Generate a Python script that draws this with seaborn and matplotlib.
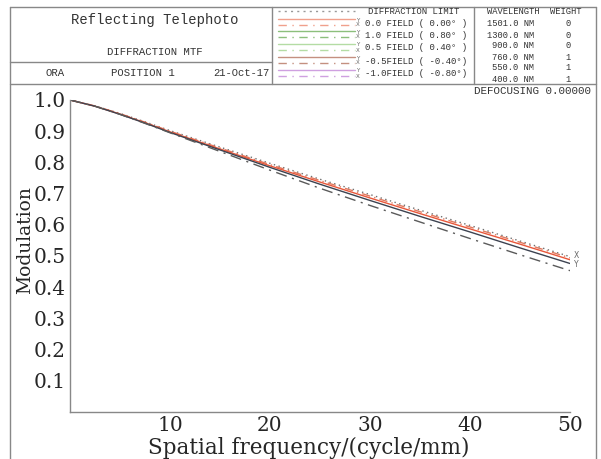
import numpy as np
import pandas as pd
import matplotlib
matplotlib.use("Agg")
import matplotlib.pyplot as plt
import seaborn as sns

# spatial frequency (cycle/mm) and modulation
freq = [0, 2.5, 5, 7.5, 10, 15, 20, 25, 30, 35, 40, 45, 50]
diff_limit = [1.0, 0.981, 0.957, 0.930, 0.902, 0.849, 0.797, 0.746, 0.697, 0.647, 0.598, 0.548, 0.498]
f00_x = [1.0, 0.981, 0.956, 0.929, 0.900, 0.846, 0.793, 0.742, 0.692, 0.642, 0.593, 0.544, 0.494]
f00_y = [1.0, 0.980, 0.955, 0.927, 0.898, 0.843, 0.789, 0.737, 0.686, 0.636, 0.587, 0.538, 0.488]
f10_y = [1.0, 0.980, 0.954, 0.926, 0.896, 0.840, 0.784, 0.730, 0.678, 0.627, 0.577, 0.526, 0.476]
f10_x = [1.0, 0.980, 0.954, 0.925, 0.895, 0.835, 0.775, 0.717, 0.662, 0.609, 0.556, 0.504, 0.453]

series = ["DIFF", "F00X", "F00Y", "F10Y", "F10X"]
colors = {"DIFF": "#707070", "F00X": "#e07a60", "F00Y": "#e8573a", "F10Y": "#3c4250", "F10X": "#5a5a5a"}
dashes = {"DIFF": (1, 2.5), "F00X": (6, 3, 1, 3), "F00Y": "", "F10Y": "", "F10X": (8, 4, 1.5, 4)}

# header legend / wavelength table text
field_labels = ["0.0 FIELD ( 0.00\u00b0 )", "1.0 FIELD ( 0.80\u00b0 )", "0.5 FIELD ( 0.40\u00b0 )",
                "-0.5FIELD ( -0.40\u00b0)", "-1.0FIELD ( -0.80\u00b0)"]
field_colors = ["#f0a08c", "#8cbf7c", "#b4dca4", "#c49080", "#cfa0e0"]
wavelengths = ["1501.0 NM", "1300.0 NM", "900.0 NM", "760.0 NM", "550.0 NM", "400.0 NM"]
weights = ["0", "0", "0", "1", "1", "1"]

df = pd.DataFrame({"freq": freq * 5,
                   "mod": diff_limit + f00_x + f00_y + f10_y + f10_x,
                   "curve": sum([[s] * len(freq) for s in series], [])})

sns.set_style("white")
plt.rcParams["font.family"] = ["DejaVu Serif"]

fig = plt.figure(figsize=(6.01, 4.59), dpi=100)
ax = fig.add_axes([70 / 601, 1 - 412 / 459, 500 / 601, 312 / 459])
sns.lineplot(data=df, x="freq", y="mod", hue="curve", style="curve", palette=colors,
             dashes=dashes, linewidth=1.0, legend=False, ax=ax)
ax.set_xlim(0, 50)
ax.set_ylim(0, 1.0)
ax.set_xticks([10, 20, 30, 40, 50])
ax.set_yticks(np.arange(1, 11) / 10)
ax.set_yticklabels([f"{v / 10:.1f}" for v in range(1, 11)])
ax.tick_params(direction="in", length=4, width=0.8, color="#888888", labelsize=14.5, pad=3)
for s in ["top", "right"]:
    ax.spines[s].set_visible(False)
for s in ["left", "bottom"]:
    ax.spines[s].set_color("#888888")
    ax.spines[s].set_linewidth(1.0)
ax.set_xlabel("Spatial frequency/(cycle/mm)", fontsize=15.5)
ax.set_ylabel("Modulation", fontsize=13.5)
ax.xaxis.set_label_coords(0.478, -0.08)
ax.yaxis.set_label_coords(-0.09, 0.55)
ax.yaxis.label.set_va("center")

# curve end labels
ax.text(50.4, f00_x[-1] + 0.008, "X", fontsize=5.5, family="DejaVu Sans", color="#666666", va="center")
ax.text(50.4, f10_y[-1] - 0.002, "Y", fontsize=5.5, family="DejaVu Sans", color="#666666", va="center")

# header overlay in pixel coordinates
ov = fig.add_axes([0, 0, 1, 1], zorder=-1)
ov.set_xlim(0, 601)
ov.set_ylim(459, 0)
ov.axis("off")
lc = "#888888"
ov.plot([10, 10], [7, 459], color=lc, lw=1)
ov.plot([596, 596], [7, 459], color=lc, lw=1)
ov.plot([10, 596], [7, 7], color=lc, lw=1)
ov.plot([10, 596], [84, 84], color=lc, lw=1)
ov.plot([10, 272], [62, 62], color=lc, lw=1)
ov.plot([272, 272], [7, 84], color=lc, lw=1)
ov.plot([474, 474], [7, 84], color=lc, lw=1)

mono = "Liberation Mono"
tc = "#333333"
ov.text(155, 20, "Reflecting Telephoto", family=mono, fontsize=10, ha="center", va="center", color=tc)
ov.text(155, 52, "DIFFRACTION MTF", family=mono, fontsize=7.7, ha="center", va="center", color=tc)
ov.text(55, 73, "ORA", family=mono, fontsize=7.7, ha="center", va="center", color=tc)
ov.text(143, 73, "POSITION 1", family=mono, fontsize=7.7, ha="center", va="center", color=tc)
ov.text(270, 73, "21-Oct-17", family=mono, fontsize=7.6, ha="right", va="center", color=tc)

ov.plot([278, 355], [11, 11], color="#999999", lw=1, linestyle=(0, (1.5, 3)))
ov.text(368, 11, "DIFFRACTION LIMIT", family=mono, fontsize=6.5, va="center", color=tc)
rows = [23, 35, 48, 61, 74]
for yy, lab, col in zip(rows, field_labels, field_colors):
    ov.plot([278, 355], [yy - 4, yy - 4], color=col, lw=1)
    ov.plot([278, 355], [yy + 2, yy + 2], color=col, lw=1, linestyle=(0, (6, 4, 1, 4)))
    ov.text(358, yy - 3, "Y", family="DejaVu Sans", fontsize=4, ha="center", va="center", color="#666666")
    ov.text(358, yy + 2, "X", family="DejaVu Sans", fontsize=4, ha="center", va="center", color="#666666")
    ov.text(365, yy, lab, family=mono, fontsize=6.5, va="center", color=tc)

ov.text(513, 12, "WAVELENGTH", family=mono, fontsize=6.3, ha="center", va="center", color=tc)
ov.text(566, 12, "WEIGHT", family=mono, fontsize=6.3, ha="center", va="center", color=tc)
for i, (wl, wt) in enumerate(zip(wavelengths, weights)):
    yy = 24 + i * 11
    ov.text(534, yy, wl, family=mono, fontsize=6.3, ha="right", va="center", color=tc)
    ov.text(568, yy, wt, family=mono, fontsize=6.3, ha="center", va="center", color=tc)
ov.text(591, 91, "DEFOCUSING 0.00000", family=mono, fontsize=7.8, ha="right", va="center", color=tc)

fig.savefig("out.png", dpi=100)
